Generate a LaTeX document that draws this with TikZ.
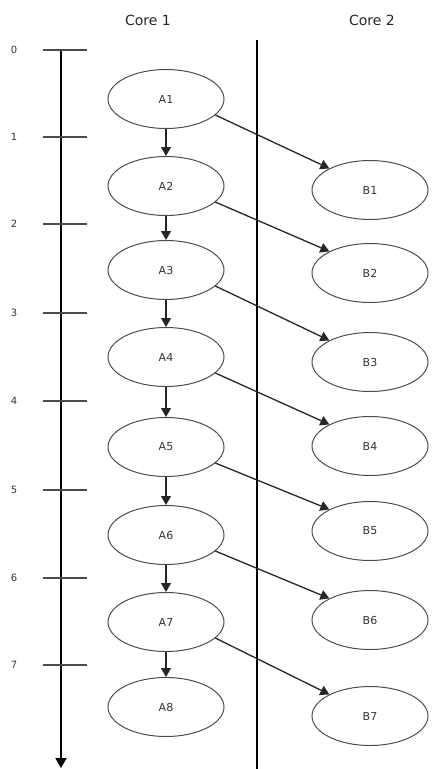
\documentclass[tikz,border=0pt]{standalone}
\usepackage{fontspec}
\setmainfont{DejaVu Sans}
\usetikzlibrary{arrows.meta,shapes.geometric}
\begin{document}
\begin{tikzpicture}[x=1pt,y=-1pt,
  ev/.style={ellipse,draw=black!70,line width=1pt,minimum width=116pt,minimum height=59pt,inner sep=0pt,font=\fontsize{11}{13}\selectfont,text=black!80},
  dep/.style={line width=1.3pt,draw=black!85,-{Triangle[length=9pt,width=10pt]}},
  tick/.style={line width=1.6pt,draw=black!70},
  lab/.style={font=\fontsize{10}{12}\selectfont,text=black!80}]
\useasboundingbox (0,0) rectangle (432,769);
\node[font=\fontsize{14}{16}\selectfont,text=black!85] (c1) at (148,20) {Core 1};
\node[font=\fontsize{14}{16}\selectfont,text=black!85] (c2) at (372,20) {Core 2};
% time axis
\coordinate (tt) at (61,50);
\coordinate (tb) at (61,768);
\draw[line width=1.8pt,-{Triangle[length=10pt,width=11pt]}] (tt) -- (tb);
\foreach \i/\y in {0/50,1/137,2/224,3/313,4/401,5/490,6/578,7/665}{
  \coordinate (tl\i) at (43,\y);
  \coordinate (tr\i) at (87,\y);
  \draw[tick] (tl\i) -- (tr\i);
  \node[lab] (n\i) at (14,\y) {\i};
}
% divider
\coordinate (dt) at (257,40);
\coordinate (db) at (257,769);
\draw[line width=2.2pt] (dt) -- (db);
% A nodes
\foreach \i/\y in {1/99,2/186,3/270,4/357,5/447,6/535,7/622,8/707}{
  \node[ev] (A\i) at (166,\y) {A\i};
}
% B nodes
\foreach \i/\y in {1/190,2/273,3/362,4/446,5/531,6/620,7/716}{
  \node[ev] (B\i) at (370,\y) {B\i};
}
\foreach \i [evaluate=\i as \j using int(\i+1)] in {1,...,7}{
  \draw[dep] (A\i) -- (A\j);
  \draw[dep] (A\i.-18) -- (B\i.152);
}
\end{tikzpicture}
\end{document}
